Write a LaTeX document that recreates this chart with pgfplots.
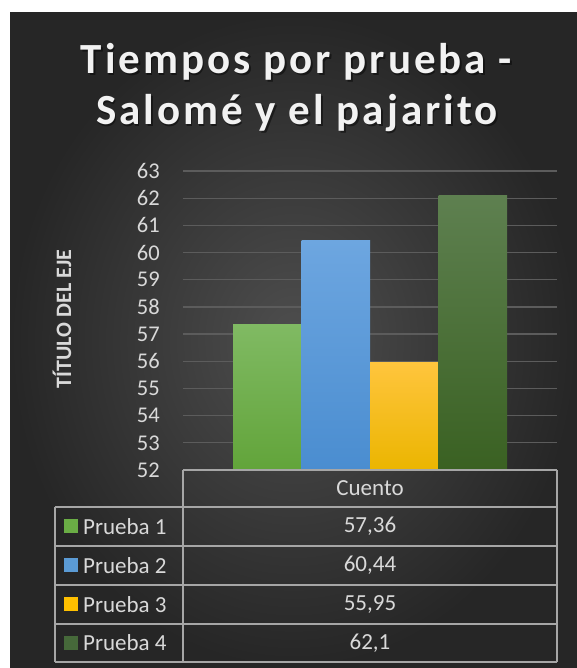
\documentclass[border=0pt]{standalone}
\usepackage{pgfplots}
\pgfplotsset{compat=1.18}
\usepackage{fontspec}
\setmainfont{Carlito}
\newfontfamily\titlefont[LetterSpace=7]{Carlito}
\definecolor{bgin}{HTML}{4E4E4E}
\definecolor{bgout}{HTML}{262626}
\definecolor{txt}{HTML}{D9D9D9}
\definecolor{gridc}{HTML}{5C5C5C}
\definecolor{tbl}{HTML}{A6A6A6}
\definecolor{gAt}{HTML}{80BA63}\definecolor{gAb}{HTML}{62A43A}
\definecolor{gBt}{HTML}{6DA6E0}\definecolor{gBb}{HTML}{4A8DD0}
\definecolor{gCt}{HTML}{FFC53D}\definecolor{gCb}{HTML}{EBB500}
\definecolor{gDt}{HTML}{5E8050}\definecolor{gDb}{HTML}{3A6122}
\definecolor{kA}{HTML}{6AAD45}\definecolor{kB}{HTML}{5B9BD5}
\definecolor{kC}{HTML}{FFC000}\definecolor{kD}{HTML}{46693A}
\begin{document}
\begin{tikzpicture}[x=1pt,y=1pt]
\fill[white] (0,0) rectangle (577,668);
\shade[inner color=bgin, outer color=bgout] (10,0) rectangle (577,655);
\begin{axis}[at={(183pt,198pt)}, anchor=south west, scale only axis,
  width=374pt, height=299pt,
  xmin=-1, xmax=1, ymin=0, ymax=11,
  ytick={0,1,2,3,4,5,6,7,8,9,10,11},
  yticklabels={52,53,54,55,56,57,58,59,60,61,62,63},
  /pgf/number format/assume math mode=true,
  ymajorgrids, grid style={gridc, line width=1.3pt},
  axis line style={draw=none}, xtick=\empty, major tick length=0pt,
  yticklabel style={font=\fontsize{22.5}{24}\selectfont, text=txt, inner sep=0pt, anchor=east, xshift=-23pt},
  ybar=0pt, bar width=68.5pt,
  y filter/.expression={y-52},
  clip=true]
\addplot[draw=none, top color=gAt, bottom color=gAb] coordinates {(0,57.36)};
\addplot[draw=none, top color=gBt, bottom color=gBb] coordinates {(0,60.44)};
\addplot[draw=none, top color=gCt, bottom color=gCb] coordinates {(0,55.95)};
\addplot[draw=none, top color=gDt, bottom color=gDb] coordinates {(0,62.1)};
\end{axis}
% title
\begin{scope}[font=\titlefont\bfseries\fontsize{43}{51}\selectfont]
\node[anchor=base, text=black, opacity=0.45] at (298,592.5) {Tiempos por prueba -};
\node[anchor=base, text=black, opacity=0.45] at (298.5,541.5) {Salomé y el pajarito};
\node[anchor=base, text=white!95!black] at (296.5,594) {Tiempos por prueba -};
\node[anchor=base, text=white!95!black] at (297,543) {Salomé y el pajarito};
\end{scope}
% y axis title
\node[rotate=90, text=txt, font=\bfseries\fontsize{22}{24}\selectfont] at (62,349) {TÍTULO DEL EJE};
% data table
\begin{scope}[tbl, line width=1.6pt]
\draw (183,198) -- (557,198);
\draw (183,198) -- (183,6);
\draw (557,198) -- (557,6);
\draw (55,161) -- (557,161);
\draw (55,122) -- (557,122);
\draw (55,83) -- (557,83);
\draw (55,44) -- (557,44);
\draw (55,6) -- (557,6);
\draw (55,161) -- (55,6);
\end{scope}
\begin{scope}[font=\fontsize{23}{25}\selectfont, text=txt]
\node at (370,179.5) {Cuento};
\node at (370,141.5) {57,36};
\node at (370,102.5) {60,44};
\node at (370,63.5) {55,95};
\node at (370,25) {62,1};
\node[anchor=west, inner sep=0pt] at (83,141.5) {Prueba 1};
\node[anchor=west, inner sep=0pt] at (83,102.5) {Prueba 2};
\node[anchor=west, inner sep=0pt] at (83,63.5) {Prueba 3};
\node[anchor=west, inner sep=0pt] at (83,25) {Prueba 4};
\end{scope}
\fill[kA] (64,134.5) rectangle (78,148.5);
\fill[kB] (64,95.5) rectangle (78,109.5);
\fill[kC] (64,56.5) rectangle (78,70.5);
\fill[kD] (64,18) rectangle (78,32);
\end{tikzpicture}
\end{document}
